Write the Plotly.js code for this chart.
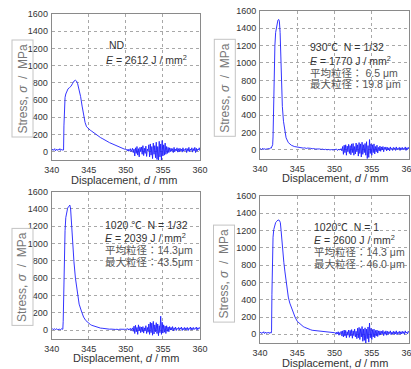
<!DOCTYPE html>
<html>
<head>
<meta charset="utf-8">
<script src="https://cdn.plot.ly/plotly-3.0.1.min.js"></script>
<style>html,body{margin:0;padding:0;background:#fff;}#chart{width:411px;height:369px;}</style>
</head>
<body>
<div id="chart"></div>
<script>
// ---- shared displacement grids (mm) ----
const baseX = [340.0,340.1,340.2,340.3,340.4,340.5,340.6,340.7,340.8,340.9,341.0,341.1,341.2,341.3,341.4];
const tailX = [345.2,345.4,345.6,345.8,346.0,346.2,346.4,346.6,346.8,347.0,347.2,347.4,347.6,347.8,348.0,348.2,348.4,348.6,348.8,349.0,349.2,349.4,349.6,349.8,350.0];
const noiseX = [350.1,350.2,350.3,350.4,350.5,350.6,350.7,350.8,350.9,351.0,
  351.1,351.2,351.3,351.4,351.5,351.6,351.7,351.8,351.9,352.0,
  352.1,352.2,352.3,352.4,352.5,352.6,352.7,352.8,352.9,353.0,
  353.1,353.2,353.3,353.4,353.5,353.6,353.7,353.8,353.9,354.0,
  354.1,354.2,354.3,354.4,354.5,354.6,354.7,354.8,354.9,355.0,
  355.1,355.2,355.3,355.4,355.5,355.6,355.7,355.8,355.9,356.0,
  356.1,356.2,356.3,356.4,356.5,356.6,356.7,356.8,356.9,357.0,
  357.1,357.2,357.3,357.4,357.5,357.6,357.7,357.8,357.9,358.0,
  358.1,358.2,358.3,358.4,358.5,358.6,358.7,358.8,358.9,359.0,
  359.1,359.2,359.3,359.4,359.5,359.6,359.7,359.8,359.9,360.0];

// ---- Panel 1: ND ----
const ndBaseY = [20,30,15,25,35,10,25,30,15,25,20,35,15,25,20];
const ndPeakX = [341.5,341.6,341.65,341.7,341.8,341.9,342.0,342.2,342.4,342.6,342.8,343.0,343.2,343.35,343.5,343.7,343.9,344.1,344.3,344.5,344.7,345.0];
const ndPeakY = [25,20,300,560,630,670,700,730,745,760,790,820,830,820,790,720,640,530,420,340,290,260];
const ndTailY = [250,238,224,210,198,186,176,163,154,142,133,122,115,105,97,90,80,72,62,53,47,40,36,30,28];
const ndNoiseY = [25,10,30,5,20,35,0,15,40,-10,
  30,-50,45,-20,60,-40,35,-60,50,0,
  55,-30,70,-45,40,-20,65,-55,30,10,
  80,-60,90,-40,60,-80,100,-30,70,-70,
  110,-90,60,-110,120,-60,90,-100,130,-50,
  80,-40,100,-30,60,-20,50,-10,45,0,
  40,5,35,-10,50,0,30,10,45,-5,
  35,0,40,10,30,-5,45,5,25,15,
  40,-10,35,5,50,0,30,15,45,-5,
  35,10,50,-10,40,5,30,20,45,10];

// ---- Panel 2: 930C N=1/32 ----
const p2BaseY = [10,15,5,10,20,5,15,10,5,15,10,20,10,15,25];
const p2PeakX = [341.5,341.6,341.7,341.75,341.8,341.9,342.0,342.1,342.25,342.4,342.5,342.6,342.7,342.8,342.9,343.0,343.15,343.3,343.5,343.8,344.2,344.6,345.0];
const p2PeakY = [20,40,60,150,420,900,1200,1350,1440,1490,1500,1480,1350,1000,700,500,330,220,140,85,55,40,32];
const p2TailY = [30,26,28,22,25,18,22,16,19,14,17,11,14,9,12,7,10,4,8,2,6,1,5,0,4];
const p2NoiseY = [5,0,10,-5,5,10,0,5,15,-10,
  40,-50,55,-30,60,-60,45,-20,65,-40,
  50,-55,70,-30,75,-60,40,-45,80,-20,
  60,-70,85,-40,70,-80,90,-50,60,-30,
  75,-60,95,-100,50,-85,120,-40,70,-60,
  60,-30,70,-45,40,-20,55,-35,30,-10,
  45,-15,35,0,40,-20,30,5,35,-10,
  30,0,25,-10,35,5,20,-5,30,10,
  25,-5,35,0,20,10,30,-5,25,5,
  30,0,20,10,35,-5,25,5,30,10];

// ---- Panel 3: 1020C N=1/32 ----
const p3BaseY = [10,15,5,10,15,5,10,15,5,10,15,10,5,15,10];
const p3PeakX = [341.5,341.55,341.62,341.7,341.8,341.9,342.0,342.15,342.3,342.45,342.55,342.7,342.85,343.0,343.2,343.4,343.7,344.0,344.3,344.6,345.0];
const p3PeakY = [10,100,500,850,1150,1300,1370,1410,1430,1445,1400,1170,950,790,600,450,300,220,150,110,75];
const p3TailY = [65,55,48,42,36,30,27,22,21,17,16,13,13,10,11,8,10,7,9,5,10,7,5,9,8];
const p3NoiseY = [10,5,15,0,10,20,-5,15,25,-15,
  45,-40,55,-20,30,-50,60,-10,40,-30,
  35,-20,40,-35,25,-10,50,-40,30,-25,
  70,-50,90,-30,80,-60,100,-45,60,-20,
  85,-40,70,-65,50,-30,160,-50,90,-35,
  60,-25,45,-40,50,-15,35,-20,40,0,
  30,0,40,-10,25,5,35,-5,20,10,
  30,0,25,10,35,-5,20,5,30,0,
  25,5,30,-5,20,10,35,0,25,5,
  30,5,20,15,35,0,25,10,30,15];

// ---- Panel 4: 1020C N=1 ----
const p4BaseY = [15,25,10,20,15,30,10,20,25,10,20,15,25,10,20];
const p4PeakX = [341.5,341.55,341.6,341.68,341.75,341.85,341.97,342.1,342.25,342.42,342.6,342.73,342.83,342.93,343.05,343.2,343.35,343.5,343.65,343.8,344.0,344.2,344.45,344.7,345.0];
const p4PeakY = [15,40,460,950,1120,1210,1265,1290,1305,1320,1315,1290,1200,1080,950,830,720,610,510,430,360,310,250,200,150];
const p4TailY = [132,116,102,90,81,72,66,58,53,47,45,40,38,34,33,29,29,25,26,22,23,19,21,17,19];
const p4NoiseY = [20,0,25,5,30,-10,20,10,35,-20,
  40,-30,50,-20,45,-40,30,-10,50,-35,
  45,-20,55,-45,40,-15,60,-30,35,-50,
  70,-40,80,-60,65,-30,90,-80,60,-70,
  75,-100,60,-50,85,-90,130,-40,70,-60,
  55,-30,60,-40,45,-20,50,-25,40,-10,
  40,-5,35,5,45,-15,30,0,40,-10,
  35,0,30,10,40,-5,25,5,35,0,
  30,5,40,-5,25,10,35,0,30,5,
  35,10,30,0,40,15,25,5,35,20];

const xTicks = [340,345,350,355,360];
const yTicks = [0,200,400,600,800,1000,1200,1400,1600];
const xTitle = 'Displacement, <i>d</i> / mm';
const yTitle = 'Stress, <i>σ</i>  /  MPa';

const panelText = [
  ['ND', '<i>E</i> = 2612 J / mm<sup>2</sup>'],
  ['930℃  N = 1/32', '<i>E</i> = 1770 J / mm<sup>2</sup>', '平均粒径： 6.5 μm', '最大粒径：19.8 μm'],
  ['1020 ℃  N = 1/32', '<i>E</i> = 2039 J / mm<sup>2</sup>', '平均粒径：14.3μm', '最大粒径：43.5μm'],
  ['1020℃  N = 1', '<i>E</i> = 2600 J / mm<sup>2</sup>', '平均粒径：14.3 μm', '最大粒径：46.0 μm']
];

// ---- layout geometry (pixels) ----
const W = 411, H = 369;
const boxes = [
  {l:51.7, r:200, t:14, b:160.3, xt:[124,180], yt:[22,88.5], txt:[[107,104],[45,59.5]]},
  {l:260, r:409, t:10.7, b:158.7, xt:[334.7,178.3], yt:[224.3,87.5], txt:[[307.7,307.7,307.7,307.7],[46.7,60,72.5,84.5]]},
  {l:51.7, r:200, t:191.7, b:338.7, xt:[125.8,358.3], yt:[22.2,276.7], txt:[[103.3,103.3,103.3,103.3],[225,237.5,250,262]]},
  {l:260, r:409, t:195.7, b:343, xt:[334.7,362.7], yt:[224.3,273.3], txt:[[312.3,312.3,312.3,312.3],[226.7,239.5,251.7,263.5]]}
];
const px = v => v / W, py = v => 1 - v / H;

const series = [
  [ndBaseY, ndPeakX, ndPeakY, ndTailY, ndNoiseY],
  [p2BaseY, p2PeakX, p2PeakY, p2TailY, p2NoiseY],
  [p3BaseY, p3PeakX, p3PeakY, p3TailY, p3NoiseY],
  [p4BaseY, p4PeakX, p4PeakY, p4TailY, p4NoiseY]
];

const FONT = 'Liberation Sans, Arial, Noto Sans CJK JP, sans-serif';
const traces = [];
const layout = {
  width: W, height: H, margin: {l:0, r:0, t:0, b:0},
  paper_bgcolor: '#fff', plot_bgcolor: '#fff', showlegend: false,
  font: {family: FONT, size: 9, color: '#333'},
  annotations: []
};

series.forEach((s, i) => {
  const n = i + 1;
  const xa = n === 1 ? 'x' : 'x' + n, ya = n === 1 ? 'y' : 'y' + n;
  traces.push({
    x: baseX.concat(s[1], tailX, noiseX),
    y: s[0].concat(s[2], s[3], s[4]),
    xaxis: xa, yaxis: ya, type: 'scatter', mode: 'lines',
    line: {color: 'rgb(30,30,255)', width: 0.9}, hoverinfo: 'skip'
  });
  const b = boxes[i];
  const ax = {
    showline: true, mirror: true, linecolor: '#8a8a8a', linewidth: 1,
    showgrid: true, gridcolor: '#a8a8a8', griddash: 'dot', gridwidth: 1,
    zeroline: false, ticks: '', tickfont: {size: 9, color: '#333', family: FONT},
    ticklabeloverflow: 'allow'
  };
  layout['xaxis' + (n === 1 ? '' : n)] = Object.assign({}, ax, {
    domain: [px(b.l), px(b.r)], range: [340, 360], tickvals: xTicks,
    anchor: ya, ticklabelstandoff: 1
  });
  layout['yaxis' + (n === 1 ? '' : n)] = Object.assign({}, ax, {
    domain: [py(b.b), py(b.t)], range: [-100, 1600], tickvals: yTicks,
    anchor: xa, ticklabelstandoff: 1
  });
  layout.annotations.push({
    xref: 'paper', yref: 'paper', x: px(b.xt[0]), y: py(b.xt[1]),
    xanchor: 'center', yanchor: 'middle', showarrow: false, text: xTitle,
    font: {size: 11, color: '#333', family: FONT}, borderpad: 0
  });
  layout.annotations.push({
    xref: 'paper', yref: 'paper', x: px(b.yt[0]), y: py(b.yt[1]),
    xanchor: 'center', yanchor: 'middle', showarrow: false, text: yTitle,
    textangle: -90, font: {size: 12, color: '#777', family: FONT},
    bordercolor: '#c4c4c4', borderwidth: 1, borderpad: 3
  });
  panelText[i].forEach((t, k) => {
    layout.annotations.push({
      xref: 'paper', yref: 'paper', x: px(b.txt[0][k]), y: py(b.txt[1][k]),
      xanchor: 'left', yanchor: 'middle', showarrow: false, text: t,
      font: {size: 10.5, color: k < 2 ? '#333' : '#555', family: FONT}
    });
  });
});

Plotly.newPlot('chart', traces, layout, {staticPlot: true, displayModeBar: false});
</script>
</body>
</html>
